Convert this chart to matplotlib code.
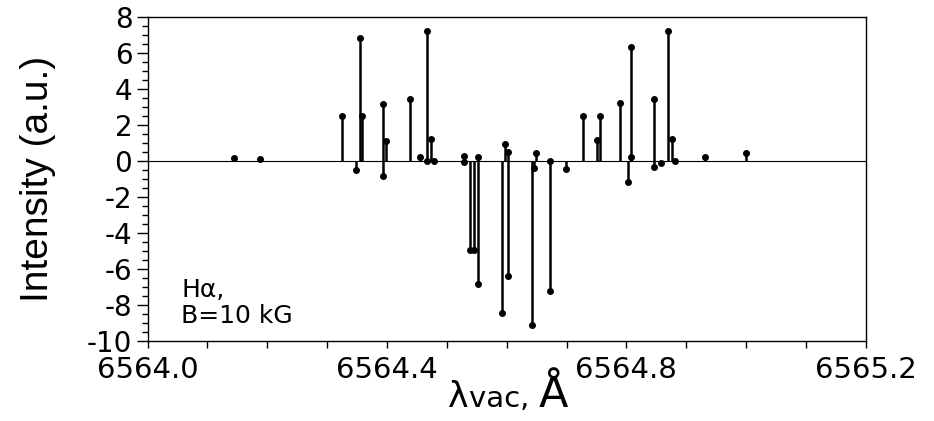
import matplotlib
matplotlib.use('Agg')
import matplotlib.pyplot as plt
from matplotlib.ticker import MultipleLocator, FormatStrFormatter
from matplotlib.offsetbox import TextArea, HPacker, AnnotationBbox

plt.rcParams['font.family'] = ['DejaVu Sans']
plt.rcParams['axes.unicode_minus'] = False

# Zeeman components of H-alpha at B = 10 kG
wavelength = [6564.144, 6564.188, 6564.325, 6564.348, 6564.355, 6564.359,
              6564.393, 6564.393, 6564.398, 6564.438, 6564.455, 6564.467,
              6564.467, 6564.474, 6564.479, 6564.529, 6564.529, 6564.539,
              6564.545, 6564.552, 6564.552, 6564.592, 6564.597, 6564.603,
              6564.603, 6564.642, 6564.646, 6564.649, 6564.672, 6564.672,
              6564.699, 6564.728, 6564.751, 6564.756, 6564.790, 6564.803,
              6564.807, 6564.807, 6564.846, 6564.846, 6564.857, 6564.870,
              6564.876, 6564.882, 6564.932, 6565.000]
intensity = [0.18, 0.11, 2.52, -0.5, 6.8, 2.5,
             3.15, -0.83, 1.09, 3.44, 0.24, 7.22,
             0.02, 1.24, 0.02, 0.28, -0.05, -4.94,
             -4.94, 0.24, -6.85, -8.43, 0.94, 0.48,
             -6.39, -9.11, -0.41, 0.43, 0.02, -7.2,
             -0.44, 2.52, 1.17, 2.5, 3.2, -1.19,
             6.3, 0.2, 3.42, -0.35, -0.09, 7.22,
             1.2, 0.02, 0.24, 0.43]

fig = plt.figure(figsize=(9.34, 4.21), dpi=100)
ax = fig.add_axes([0.158, 0.19, 0.769, 0.77])

# stems and end dots
ax.vlines(wavelength, 0, intensity, colors='black', linewidth=1.8)
ax.plot(wavelength, intensity, 'o', color='black', markersize=4)
ax.axhline(0, color='black', linewidth=0.8)

ax.set_xlim(6564.0, 6565.2)
ax.set_ylim(-10, 8)
ax.xaxis.set_major_locator(MultipleLocator(0.4))
ax.xaxis.set_minor_locator(MultipleLocator(0.1))
ax.xaxis.set_major_formatter(FormatStrFormatter('%.1f'))
ax.yaxis.set_major_locator(MultipleLocator(2))
ax.yaxis.set_minor_locator(MultipleLocator(0.5))

ax.tick_params(axis='x', which='both', direction='out', length=5, width=1,
               labelsize=21, pad=6)
ax.tick_params(axis='y', which='major', direction='out', length=8, width=1,
               labelsize=20, pad=3)
ax.tick_params(axis='y', which='minor', direction='out', length=4, width=1)
for s in ax.spines.values():
    s.set_linewidth(1.0)

ax.set_ylabel('Intensity (a.u.)', family='Liberation Sans', fontsize=28)
ax.yaxis.set_label_coords(-0.127, 0.5)

ax.text(0.047, 0.04, 'H\u03b1,\nB=10 kG', transform=ax.transAxes,
        fontsize=18, ha='left', va='bottom', linespacing=1.1)

# x label with mixed sizes
parts = HPacker(children=[TextArea('\u03bb', textprops=dict(size=25)),
                          TextArea('vac, ', textprops=dict(size=21)),
                          TextArea('\u00c5', textprops=dict(size=31))],
                align='baseline', pad=0, sep=0)
ab = AnnotationBbox(parts, (0.544, 0.012), xycoords='figure fraction',
                    box_alignment=(0.5, 0.0), frameon=False)
fig.add_artist(ab)

fig.savefig('out.png', dpi=100)
